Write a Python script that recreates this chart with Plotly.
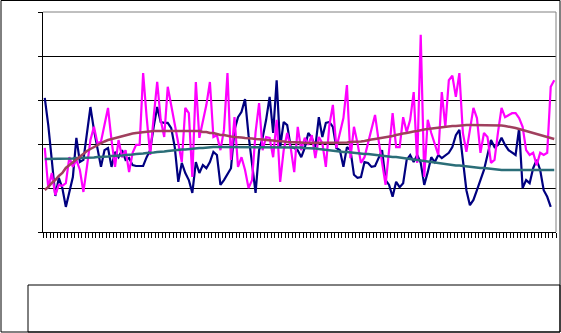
import plotly.graph_objects as go

categories = list(range(1, 147))

series_magenta = [
    1.91, 1.00, 1.34, 0.84, 1.07, 1.05, 1.11, 1.70, 1.48, 1.64,
    1.41, 0.91, 1.48, 2.09, 2.39, 2.02, 2.05, 2.43, 2.82, 2.09,
    1.48, 2.09, 1.70, 1.86, 1.36, 1.80, 1.98, 1.98, 3.61, 2.61,
    1.75, 2.61, 3.41, 2.55, 2.16, 3.30, 2.89, 2.50, 2.02, 1.59,
    2.82, 2.70, 1.25, 3.41, 2.14, 2.50, 2.89, 3.41, 2.16, 2.20,
    1.86, 2.32, 3.61, 1.64, 2.61, 1.48, 1.70, 1.41, 1.00, 1.18,
    2.27, 2.93, 1.86, 2.16, 2.14, 1.70, 2.55, 1.14, 1.86, 2.25,
    1.91, 1.36, 2.39, 1.86, 2.14, 1.98, 2.20, 1.68, 2.16, 2.02,
    1.48, 2.43, 2.89, 1.91, 2.25, 2.59, 3.34, 1.68, 2.39, 2.02,
    1.57, 1.70, 2.02, 2.32, 2.66, 2.09, 1.59, 1.07, 1.86, 2.70,
    1.93, 1.93, 2.61, 2.27, 2.55, 3.18, 1.57, 4.48, 1.25, 2.55,
    2.25, 2.02, 1.75, 3.18, 2.39, 3.45, 3.55, 3.07, 3.61, 2.25,
    1.82, 2.32, 2.82, 2.59, 1.80, 2.25, 2.16, 1.57, 1.64, 2.27,
    2.82, 2.61, 2.66, 2.70, 2.70, 2.59, 2.39, 1.86, 1.75, 1.80,
    1.52, 1.80, 1.75, 1.80, 3.30, 3.45,
]

series_navy = [
    3.05, 2.43, 1.64, 0.82, 1.23, 1.00, 0.57, 0.91, 1.25, 2.14,
    1.59, 1.64, 2.20, 2.84, 2.32, 1.86, 1.48, 1.86, 1.91, 1.48,
    1.82, 1.70, 1.86, 1.64, 1.68, 1.52, 1.50, 1.50, 1.50, 1.70,
    1.86, 2.39, 2.84, 2.50, 2.48, 2.48, 2.36, 1.93, 1.14, 1.57,
    1.34, 1.18, 0.89, 1.59, 1.34, 1.52, 1.45, 1.59, 1.82, 1.75,
    1.07, 1.18, 1.30, 1.45, 2.32, 2.61, 2.73, 3.02, 2.20, 1.52,
    0.89, 1.86, 2.14, 2.55, 3.07, 2.25, 3.45, 1.93, 2.50, 2.43,
    1.93, 1.91, 1.86, 1.70, 1.91, 2.25, 2.14, 1.93, 2.61, 2.16,
    2.48, 2.50, 2.39, 1.91, 1.86, 1.48, 1.93, 1.86, 1.30, 1.23,
    1.25, 1.59, 1.57, 1.48, 1.50, 1.68, 1.86, 1.18, 1.07, 0.80,
    1.14, 1.02, 1.11, 1.64, 1.75, 1.59, 1.75, 1.57, 1.07, 1.36,
    1.70, 1.59, 1.75, 1.68, 1.75, 1.80, 1.93, 2.20, 2.32, 1.64,
    0.95, 0.61, 0.73, 0.95, 1.18, 1.41, 1.75, 2.09, 1.93, 1.98,
    2.14, 1.98, 1.86, 1.80, 1.75, 2.36, 1.00, 1.18, 1.11, 1.45,
    1.64, 1.41, 0.95, 0.80, 0.57, None,
]

# smooth trend curves
trend_magenta = [
    0.955, 1.023, 1.114, 1.182, 1.273, 1.341, 1.455, 1.523, 1.591, 1.659,
    1.727, 1.795, 1.841, 1.886, 1.932, 1.977, 2.023, 2.057, 2.091, 2.114,
    2.136, 2.159, 2.182, 2.205, 2.227, 2.239, 2.250, 2.261, 2.273, 2.273,
    2.284, 2.295, 2.295, 2.295, 2.295, 2.295, 2.295, 2.295, 2.295, 2.295,
    2.295, 2.295, 2.295, 2.295, 2.295, 2.273, 2.273, 2.250, 2.250, 2.227,
    2.205, 2.205, 2.182, 2.170, 2.159, 2.159, 2.148, 2.136, 2.136, 2.125,
    2.114, 2.114, 2.102, 2.091, 2.091, 2.080, 2.068, 2.068, 2.057, 2.045,
    2.045, 2.045, 2.034, 2.034, 2.023, 2.023, 2.023, 2.023, 2.023, 2.023,
    2.023, 2.023, 2.023, 2.023, 2.023, 2.034, 2.034, 2.045, 2.045, 2.045,
    2.057, 2.068, 2.091, 2.102, 2.114, 2.125, 2.136, 2.159, 2.170, 2.182,
    2.205, 2.227, 2.239, 2.250, 2.273, 2.284, 2.295, 2.318, 2.330, 2.341,
    2.352, 2.364, 2.364, 2.375, 2.386, 2.398, 2.409, 2.409, 2.420, 2.420,
    2.432, 2.432, 2.432, 2.432, 2.432, 2.432, 2.432, 2.432, 2.432, 2.432,
    2.420, 2.409, 2.398, 2.386, 2.364, 2.341, 2.318, 2.295, 2.273, 2.250,
    2.227, 2.205, 2.182, 2.159, 2.136, 2.114,
]

trend_navy = [
    1.659, 1.659, 1.659, 1.659, 1.659, 1.670, 1.670, 1.670, 1.670, 1.682,
    1.682, 1.682, 1.682, 1.693, 1.693, 1.705, 1.705, 1.705, 1.716, 1.727,
    1.727, 1.739, 1.739, 1.750, 1.750, 1.761, 1.773, 1.773, 1.784, 1.795,
    1.795, 1.807, 1.818, 1.818, 1.830, 1.841, 1.852, 1.852, 1.864, 1.875,
    1.875, 1.886, 1.886, 1.898, 1.909, 1.909, 1.920, 1.920, 1.932, 1.932,
    1.932, 1.932, 1.932, 1.932, 1.932, 1.932, 1.932, 1.932, 1.932, 1.932,
    1.932, 1.932, 1.932, 1.932, 1.932, 1.932, 1.932, 1.932, 1.932, 1.932,
    1.932, 1.932, 1.920, 1.920, 1.909, 1.909, 1.909, 1.898, 1.886, 1.875,
    1.864, 1.852, 1.841, 1.841, 1.830, 1.818, 1.818, 1.807, 1.795, 1.795,
    1.784, 1.773, 1.773, 1.761, 1.750, 1.739, 1.727, 1.727, 1.716, 1.705,
    1.705, 1.693, 1.682, 1.670, 1.659, 1.648, 1.636, 1.625, 1.614, 1.602,
    1.591, 1.580, 1.568, 1.557, 1.545, 1.534, 1.523, 1.511, 1.511, 1.500,
    1.489, 1.477, 1.477, 1.466, 1.455, 1.455, 1.443, 1.432, 1.432, 1.420,
    1.409, 1.409, 1.409, 1.409, 1.409, 1.409, 1.409, 1.409, 1.409, 1.409,
    1.409, 1.409, 1.409, 1.409, 1.409, 1.409,
]

y_gridlines = [0, 1, 2, 3, 4, 5]

x_idx = list(range(len(categories)))

fig = go.Figure()
fig.add_trace(go.Scatter(x=x_idx, y=series_navy, mode="lines",
                         line=dict(color="#000080", width=2.2)))
fig.add_trace(go.Scatter(x=x_idx, y=series_magenta, mode="lines",
                         line=dict(color="#FF00FF", width=2.2)))
fig.add_trace(go.Scatter(x=x_idx, y=trend_navy, mode="lines",
                         line=dict(color="#2B6E78", width=2.5), hoverinfo="skip"))
fig.add_trace(go.Scatter(x=x_idx, y=trend_magenta, mode="lines",
                         line=dict(color="#A0405E", width=2.5), hoverinfo="skip"))

# plot area: x 43..556 px, y 12..232 px
W, H = 513.0, 220.0
L, T = 43.0, 12.0


def px(xp):
    return (xp - L) / W


def py(yp):
    return (T + H - yp) / H


shapes = [
    dict(type="rect", xref="paper", yref="paper", x0=px(1), x1=px(560), y0=py(332), y1=py(0.5),
         line=dict(color="black", width=1)),
    dict(type="rect", xref="paper", yref="paper", x0=px(28), x1=px(560), y0=py(332), y1=py(285),
         line=dict(color="black", width=1)),
    dict(type="line", xref="paper", yref="paper", x0=0, x1=1, y0=1, y1=1,
         line=dict(color="#808080", width=1)),
    dict(type="line", xref="paper", yref="paper", x0=1, x1=1, y0=0, y1=1,
         line=dict(color="#808080", width=1)),
]

fig.update_layout(
    width=561, height=333,
    margin=dict(l=43, r=5, t=12, b=101),
    paper_bgcolor="white", plot_bgcolor="white",
    showlegend=False,
    shapes=shapes,
    xaxis=dict(range=[-0.5, len(categories) - 0.5], tickmode="linear", tick0=-0.5, dtick=1,
               ticks="outside", ticklen=5, tickcolor="black", tickwidth=1,
               showticklabels=False, showgrid=False, zeroline=False,
               showline=True, linecolor="black", linewidth=1),
    yaxis=dict(range=[0, 5], tickmode="array", tickvals=y_gridlines,
               ticks="outside", ticklen=4, tickcolor="black",
               showticklabels=False, showgrid=True, gridcolor="black", gridwidth=1,
               zeroline=False, showline=True, linecolor="black", linewidth=1),
)

fig.write_html("out.html")
